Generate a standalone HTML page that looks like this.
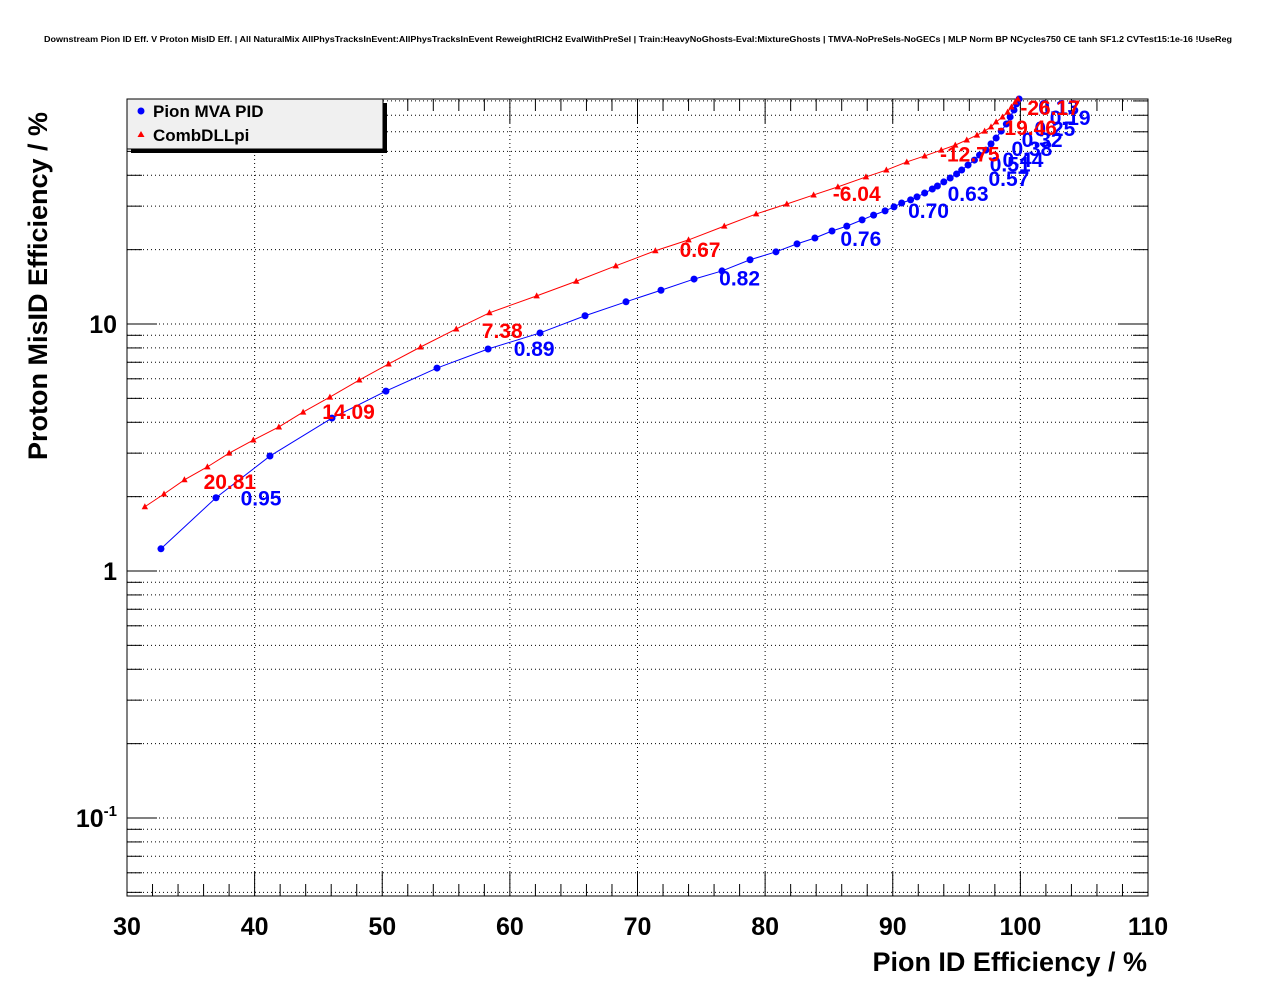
<!DOCTYPE html>
<html><head><meta charset="utf-8"><style>
body{margin:0;background:#fff;}
svg text{font-family:"Liberation Sans",Arial,sans-serif;font-weight:bold;}
</style></head><body>
<svg id="c" width="1276" height="996" xmlns="http://www.w3.org/2000/svg">
<text x="44" y="42" font-size="8" textLength="1188" lengthAdjust="spacingAndGlyphs">Downstream Pion ID Eff. V Proton MisID Eff. | All NaturalMix AllPhysTracksInEvent:AllPhysTracksInEvent ReweightRICH2 EvalWithPreSel | Train:HeavyNoGhosts-Eval:MixtureGhosts | TMVA-NoPreSels-NoGECs | MLP Norm BP NCycles750 CE tanh SF1.2 CVTest15:1e-16 !UseReg</text>
<g id="grid"></g><g id="axes"></g><g id="series"></g><g id="labels"></g>
<g>
<rect x="131" y="103" width="256" height="50" fill="#000"/>
<rect x="127" y="99" width="256" height="50" fill="#f0f0f0" stroke="#000" stroke-width="1"/>
<circle cx="141" cy="111" r="3.5" fill="#0000ff"/>
<text x="153" y="117" font-size="17">Pion MVA PID</text>
<polygon points="141,131 144.5,137 137.5,137" fill="#ff0000"/>
<text x="153" y="141" font-size="17">CombDLLpi</text>
</g>
<text x="1147" y="971" font-size="27" text-anchor="end">Pion ID Efficiency / %</text>
<text transform="translate(47,460) rotate(-90)" font-size="27">Proton MisID Efficiency / %</text>
</svg>
<script>
const mvaX=[32.66,36.97,41.2,46.06,50.29,54.29,58.29,62.36,65.89,69.1,71.84,74.43,76.62,78.82,80.85,82.5,83.9,85.24,86.4,87.6,88.5,89.4,90.1,90.7,91.4,91.9,92.5,93.1,93.5,94.0,94.5,95.0,95.4,95.9,96.4,96.8,97.3,97.7,98.1,98.5,98.9,99.2,99.5,99.7,99.9];
const mvaY=[1.23,1.98,2.92,4.16,5.35,6.63,7.92,9.2,10.8,12.3,13.7,15.2,16.4,18.2,19.6,21.1,22.3,23.8,24.9,26.4,27.6,28.7,29.8,30.9,31.8,32.7,33.9,35.2,36.2,37.6,39.0,40.5,42.0,44.0,46.1,48.3,50.6,53.6,56.6,60.4,64.5,68.9,73.5,77.8,81.5];
const dllX=[31.4,32.9,34.5,36.3,38.0,39.9,41.9,43.8,45.9,48.2,50.5,53.0,55.8,58.4,62.1,65.2,68.3,71.4,74.0,76.8,79.3,81.7,83.8,85.7,87.9,89.5,91.1,92.5,93.8,94.9,95.8,96.6,97.2,97.7,98.1,98.6,99.0,99.3,99.6,99.8];
const dllY=[1.82,2.05,2.34,2.64,3.0,3.39,3.83,4.4,5.06,5.93,6.89,8.07,9.55,11.1,13.0,14.9,17.2,19.8,21.9,24.9,27.9,30.6,33.3,35.9,39.4,42.0,45.3,47.9,50.6,53.0,55.6,58.2,60.4,62.8,65.8,68.9,72.1,75.6,79.2,81.5];
const mvaLabText=["0.95","0.89","0.82","0.76","0.70","0.63","0.57","0.51","0.44","0.38","0.32","0.25","0.19","0.13"];
const mvaLabX=[38.9,60.3,76.4,85.9,91.2,94.3,97.5,97.6,98.6,99.3,100.1,101.1,102.3,101.4];
const mvaLabY=[1.98,8.0,15.4,22.3,29.0,33.9,39.0,44.6,46.6,51.6,56.1,62.2,68.9,76];
const dllLabText=["20.81","14.09","7.38","0.67","-6.04","-12.75","-19.46","-26.17"];
const dllLabX=[36.0,45.3,57.8,73.3,85.3,93.7,98.2,100];
const dllLabY=[2.31,4.45,9.45,20.1,33.9,48.9,62.8,75.7];
const xTicks=[30,40,50,60,70,80,90,100,110];
const yDecades=[0.1,1,10];

const NS="http://www.w3.org/2000/svg";
const L=127,R=1148,T=99,B=896;
const X=v=>L+(v-30)*(R-L)/80;
const Y=v=>571-Math.log10(v)*247;
function mk(tag,attrs,parent){const e=document.createElementNS(NS,tag);for(const k in attrs)e.setAttribute(k,attrs[k]);document.getElementById(parent).appendChild(e);return e;}
xTicks.forEach(t=>{if(t>30&&t<110){const g=mk('line',{x1:X(t),x2:X(t),y1:T,y2:B,stroke:'#000','stroke-dasharray':'1,3','stroke-width':1},'grid');

}});
const yMinor=[];
[0.01,0.1,1,10].forEach(d=>{for(let m=1;m<10;m++){const v=d*m;if(Y(v)>T&&Y(v)<B)yMinor.push(v);}});
yMinor.forEach(v=>{const g=mk('line',{x1:L,x2:R,y1:Y(v),y2:Y(v),stroke:'#000','stroke-dasharray':'1,3','stroke-width':1},'grid');


const major=Math.abs(Math.log10(v)-Math.round(Math.log10(v)))<1e-6;
const len=major?30:15;
mk('line',{x1:L,x2:L+len,y1:Y(v),y2:Y(v),stroke:'#000'},'axes');
mk('line',{x1:R,x2:R-len,y1:Y(v),y2:Y(v),stroke:'#000'},'axes');});
const fr=mk('rect',{x:L,y:T,width:R-L,height:B-T,fill:'none',stroke:'#000','stroke-width':1},'axes');


for(let v=30;v<=110;v+=2){const major=v%10===0;const len=major?24:12;
mk('line',{x1:X(v),x2:X(v),y1:B,y2:B-len,stroke:'#000'},'axes');
mk('line',{x1:X(v),x2:X(v),y1:T,y2:T+len,stroke:'#000'},'axes');}
xTicks.forEach(t=>{const e=mk('text',{x:X(t),y:935,'font-size':25,'text-anchor':'middle'},'axes');e.textContent=t;

});
yDecades.forEach(d=>{const e=mk('text',{x:117,y:Y(d)+9,'font-size':25,'text-anchor':'end'},'axes');


const p=Math.round(Math.log10(d));
if(p===0)e.textContent='1';else if(p===1)e.textContent='10';else{e.innerHTML='10<tspan font-size="15" dy="-11">'+p+'</tspan>';}});
function line(xs,ys,col,name){const pts=xs.map((x,i)=>X(x)+','+Y(ys[i])).join(' ');
const e=mk('polyline',{points:pts,fill:'none',stroke:col,'stroke-width':1},'series');

}
line(mvaX,mvaY,'#0000ff','mva-line');line(dllX,dllY,'#ff0000','dll-line');
mvaX.forEach((x,i)=>{const c=mk('circle',{cx:X(x),cy:Y(mvaY[i]),r:3.5,fill:'#0000ff'},'series');

});
dllX.forEach((x,i)=>{const cx=X(x),cy=Y(dllY[i]);const c=mk('polygon',{points:`${cx},${cy-3.5} ${cx+3.2},${cy+2.5} ${cx-3.2},${cy+2.5}`,fill:'#ff0000'},'series');

});
mvaLabText.forEach((t,i)=>{const e=mk('text',{x:X(mvaLabX[i]),y:Y(mvaLabY[i])+8,'font-size':21,fill:'#0000ff'},'labels');e.textContent=t;

});
dllLabText.forEach((t,i)=>{const e=mk('text',{x:X(dllLabX[i]),y:Y(dllLabY[i])+8,'font-size':21,fill:'#ff0000'},'labels');e.textContent=t;

});
</script>
</body></html>
